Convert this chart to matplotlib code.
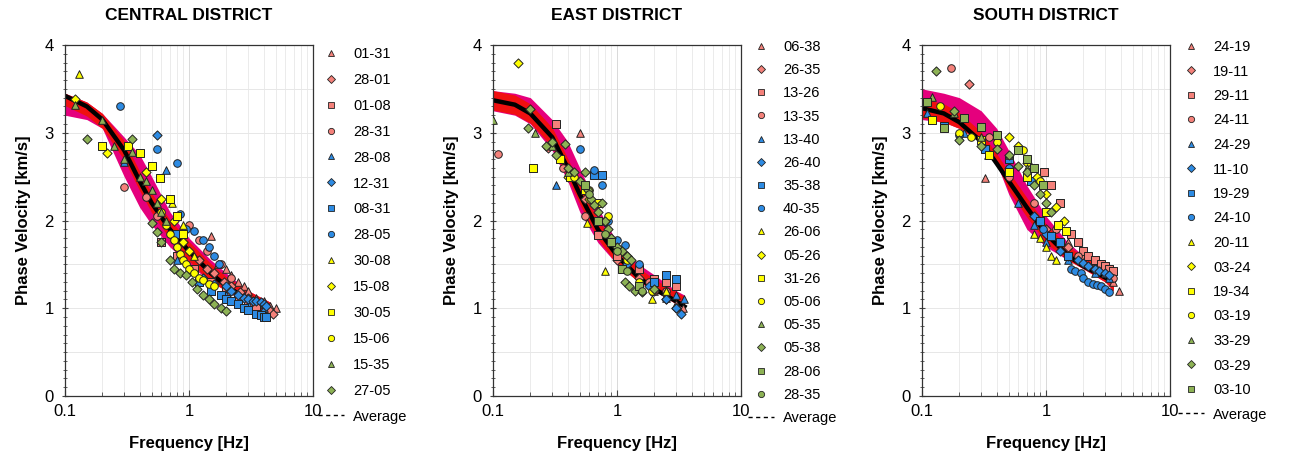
import matplotlib
matplotlib.use("Agg")
import matplotlib.pyplot as plt
from matplotlib.lines import Line2D
from matplotlib.ticker import LogLocator, MultipleLocator, NullFormatter
import numpy as np

plt.rcParams['font.family'] = ['Liberation Sans', 'DejaVu Sans']

titles = ["CENTRAL DISTRICT", "EAST DISTRICT", "SOUTH DISTRICT"]

C_RED = '#F4817A'
C_BLUE = '#2D8BE3'
C_YEL = '#FFFF00'
C_GRN = '#8DB255'
colors = [C_RED] * 4 + [C_BLUE] * 4 + [C_YEL] * 4 + [C_GRN] * 4
markers = ['^', 'D', 's', 'o'] * 4

# ---------------- CENTRAL ----------------
central_labels = ["01-31", "28-01", "01-08", "28-31", "28-08", "12-31", "08-31", "28-05",
                  "30-08", "15-08", "30-05", "15-06", "15-35", "27-05"]
central_f = [
    [1.5, 1.7, 2.0, 2.2, 2.5, 2.8, 3.0, 3.5, 4.0, 4.5, 5.0],
    [1.2, 1.4, 1.6, 1.9, 2.2, 2.6, 3.0, 3.5, 4.0, 4.4, 4.8],
    [0.6, 0.8, 1.1, 1.5, 2.0, 2.5, 3.0, 3.5],
    [0.3, 0.45, 0.55, 1.0, 1.2, 1.4, 1.8, 2.2],
    [0.3, 0.65, 0.8, 1.5, 2.0, 3.0, 4.0],
    [0.55, 1.3, 1.6, 2.0, 2.2, 2.5, 2.8, 3.0, 3.3, 3.5, 3.8, 4.0, 4.2],
    [0.8, 1.2, 1.5, 1.8, 2.0, 2.2, 2.5, 2.8, 3.0, 3.5, 3.8, 4.0, 4.2],
    [0.28, 0.55, 0.8, 0.85, 0.95, 1.1, 1.3, 1.45, 1.6, 1.75],
    [0.13, 0.73, 0.8, 0.9, 1.1],
    [0.12, 0.22, 0.45, 0.6, 0.75, 0.9, 1.0],
    [0.2, 0.32, 0.4, 0.5, 0.58, 0.7, 0.8, 0.9],
    [0.6, 0.65, 0.7, 0.75, 0.8, 0.85, 0.9, 0.95, 1.0, 1.1, 1.2, 1.3, 1.45, 1.6],
    [0.12, 0.2, 0.25, 0.3, 0.35, 0.4, 0.45, 0.5, 0.55, 0.6, 0.65],
    [0.15, 0.35, 0.5, 0.55, 0.6, 0.7, 0.75, 0.85, 0.95, 1.05, 1.15, 1.3, 1.45, 1.6, 1.8, 2.0],
]
central_v = [
    [1.82, 1.5, 1.45, 1.38, 1.3, 1.25, 1.2, 1.12, 1.08, 1.03, 1.0],
    [1.55, 1.45, 1.4, 1.3, 1.25, 1.18, 1.12, 1.07, 1.02, 0.98, 0.93],
    [1.75, 1.6, 1.45, 1.3, 1.2, 1.12, 1.05, 1.0],
    [2.38, 2.27, 2.05, 1.95, 1.78, 1.65, 1.5, 1.35],
    [2.67, 2.58, 1.55, 1.2, 1.15, 1.05, 1.0],
    [2.98, 1.35, 1.28, 1.25, 1.2, 1.15, 1.12, 1.1, 1.08, 1.08, 1.07, 1.05, 1.03],
    [1.85, 1.3, 1.2, 1.15, 1.1, 1.08, 1.05, 1.0, 0.98, 0.93, 0.92, 0.9, 0.9],
    [3.3, 2.82, 2.65, 2.07, 1.9, 1.88, 1.78, 1.7, 1.6, 1.5],
    [3.67, 2.2, 2.05, 1.95, 1.6],
    [3.38, 2.77, 2.55, 2.25, 2.0, 1.75, 1.65],
    [2.85, 2.85, 2.77, 2.62, 2.48, 2.25, 2.05, 1.85],
    [2.1, 1.95, 1.85, 1.78, 1.7, 1.62, 1.55, 1.5, 1.45, 1.4, 1.35, 1.32, 1.28, 1.25],
    [3.32, 3.15, 2.85, 2.7, 2.78, 2.5, 2.45, 2.35, 2.2, 2.1, 2.0],
    [2.93, 2.93, 1.97, 1.87, 1.75, 1.55, 1.45, 1.4, 1.38, 1.3, 1.22, 1.15, 1.1, 1.05, 1.0, 0.97],
]
central_avg_f = [0.1, 0.15, 0.2, 0.3, 0.4, 0.5, 0.7, 1.0, 1.5, 2.0, 3.0, 4.5]
central_avg_v = [3.42, 3.3, 3.15, 2.8, 2.45, 2.2, 1.9, 1.65, 1.4, 1.25, 1.1, 1.0]
central_lo = [3.2, 3.15, 3.05, 2.5, 2.15, 1.95, 1.7, 1.5, 1.3, 1.2, 1.05, 0.93]
central_hi = [3.45, 3.35, 3.22, 2.95, 2.75, 2.5, 2.1, 1.8, 1.55, 1.4, 1.2, 1.07]

# ---------------- EAST ----------------
east_labels = ["06-38", "26-35", "13-26", "13-35", "13-40", "26-40", "35-38", "40-35",
               "26-06", "05-26", "31-26", "05-06", "05-35", "05-38", "28-06", "28-35"]
east_f = [
    [0.5, 1.5, 2.0, 2.5, 3.0, 3.4],
    [0.28, 0.55, 1.0, 1.5, 2.0, 2.5, 3.0],
    [0.32, 0.7, 1.0, 1.5, 2.0, 2.5, 3.0],
    [0.11, 0.37, 0.55, 1.2, 1.8, 2.5],
    [0.32, 1.0, 2.0, 2.5, 3.0, 3.5],
    [0.8, 1.2, 1.8, 2.5, 3.0, 3.3],
    [0.65, 0.75, 1.5, 2.0, 2.5, 3.0],
    [0.5, 0.65, 0.75, 0.85, 1.0, 1.15, 1.5],
    [0.57, 0.8, 1.9, 2.5],
    [0.16, 0.4, 0.6, 0.8, 1.2],
    [0.21, 0.35, 0.42, 0.55, 0.7],
    [0.45, 0.6, 0.85, 1.2, 1.5, 1.9],
    [0.1, 0.22, 0.3, 0.4],
    [0.19, 0.2, 0.27, 0.3, 0.32, 0.38, 0.4, 0.45, 0.5, 0.55, 0.58, 0.62, 0.65, 0.7, 0.75,
     0.8, 0.85, 0.9, 1.0, 1.1, 1.2, 1.3, 1.15, 1.25, 1.4, 1.6, 2.0],
    [0.55, 0.7, 0.9, 1.1, 1.5],
    [0.6, 0.8, 1.0, 1.2, 1.6],
]
east_v = [
    [3.0, 1.3, 1.2, 1.12, 1.05, 1.0],
    [2.83, 2.25, 1.55, 1.35, 1.2, 1.1, 1.0],
    [3.1, 1.83, 1.6, 1.45, 1.33, 1.3, 1.25],
    [2.76, 2.6, 2.05, 1.5, 1.3, 1.2],
    [2.4, 1.7, 1.25, 1.2, 1.15, 1.1],
    [1.98, 1.5, 1.25, 1.1, 1.0, 0.93],
    [2.52, 2.52, 1.25, 1.3, 1.38, 1.33],
    [2.82, 2.58, 2.4, 2.0, 1.78, 1.72, 1.5],
    [1.97, 1.43, 1.1, 1.2],
    [3.8, 2.5, 2.25, 2.0, 1.6],
    [2.6, 2.7, 2.5, 2.35, 2.2],
    [2.5, 2.35, 2.05, 1.55, 1.3, 1.2],
    [3.15, 3.0, 2.85, 2.55],
    [3.05, 3.27, 2.85, 2.9, 2.75, 2.87, 2.6, 2.55, 2.45, 2.55, 2.35, 2.25, 2.18, 2.1, 2.2,
     2.0, 1.9, 1.8, 1.7, 1.65, 1.6, 1.55, 1.3, 1.25, 1.2, 1.18, 1.22],
    [2.4, 2.0, 1.75, 1.45, 1.25],
    [2.3, 1.85, 1.65, 1.42, 1.2],
]
east_avg_f = [0.1, 0.15, 0.2, 0.3, 0.4, 0.5, 0.7, 1.0, 1.5, 2.0, 3.0, 3.5]
east_avg_v = [3.37, 3.32, 3.22, 2.95, 2.6, 2.3, 1.9, 1.6, 1.35, 1.22, 1.08, 1.02]
east_lo = [3.25, 3.2, 3.1, 2.8, 2.45, 2.1, 1.75, 1.5, 1.3, 1.2, 1.05, 1.0]
east_hi = [3.48, 3.45, 3.4, 3.15, 2.9, 2.6, 2.15, 1.75, 1.5, 1.38, 1.2, 1.15]

# ---------------- SOUTH ----------------
south_labels = ["24-19", "19-11", "29-11", "24-11", "24-29", "11-10", "19-29", "24-10",
                "20-11", "03-24", "19-34", "03-19", "33-29", "03-29", "03-10"]
south_f = [
    [0.32, 1.5, 2.0, 2.5, 3.0, 3.5, 3.9],
    [0.24, 0.5, 1.0, 1.5, 2.5, 3.3],
    [0.97, 1.1, 1.3, 1.6, 1.8, 2.0, 2.2, 2.5, 2.8, 3.0, 3.2, 3.5],
    [0.17, 0.35, 0.5, 0.8, 1.2, 1.8, 2.5, 3.5],
    [0.11, 0.22, 0.34, 0.5, 0.6, 0.8, 1.0, 1.5, 2.5, 3.2],
    [0.8, 1.0, 1.3, 1.5, 1.8, 2.0, 2.2, 2.5, 2.7, 3.0, 3.2],
    [0.15, 0.32, 0.5, 0.75, 0.9, 1.1, 1.3, 1.5],
    [0.2, 0.5, 0.95, 1.6, 1.7, 1.9, 2.0, 2.2, 2.4, 2.6, 2.8, 3.0, 3.2],
    [0.8, 0.9, 1.0, 1.1, 1.2],
    [0.5, 0.6, 0.7, 0.85, 1.0, 1.2, 1.4],
    [0.12, 0.3, 0.35, 0.5, 0.7, 1.0, 1.25, 1.45],
    [0.14, 0.2, 0.25, 0.4, 0.65, 0.9],
    [0.12, 0.18, 0.3, 0.5, 0.7],
    [0.13, 0.18, 0.2, 0.3, 0.4, 0.5, 0.6, 0.7, 0.8, 0.9, 1.0, 1.1],
    [0.11, 0.15, 0.22, 0.3, 0.4, 0.6, 0.7, 0.8, 0.95],
]
south_v = [
    [2.48, 1.75, 1.6, 1.5, 1.4, 1.3, 1.2],
    [3.55, 2.6, 1.9, 1.7, 1.45, 1.38],
    [2.55, 2.4, 2.2, 1.85, 1.75, 1.65, 1.6, 1.55, 1.5, 1.48, 1.45, 1.42],
    [3.74, 2.95, 2.5, 2.2, 1.9, 1.6, 1.45, 1.35],
    [3.22, 3.0, 2.75, 2.55, 2.2, 1.95, 1.75, 1.55, 1.4, 1.35],
    [2.05, 1.85, 1.65, 1.6, 1.55, 1.52, 1.48, 1.45, 1.42, 1.4, 1.38],
    [3.08, 2.82, 2.7, 2.45, 2.0, 1.82, 1.75, 1.6],
    [2.98, 2.6, 1.9, 1.45, 1.43, 1.4, 1.35, 1.3, 1.28, 1.27, 1.25, 1.22, 1.18],
    [1.85, 1.8, 1.7, 1.6, 1.55],
    [2.95, 2.85, 2.65, 2.5, 2.3, 2.15, 2.0],
    [3.15, 2.92, 2.75, 2.55, 2.5, 2.1, 1.95, 1.88],
    [3.3, 3.0, 2.95, 2.9, 2.8, 2.45],
    [3.41, 3.22, 2.95, 2.75, 2.6],
    [3.7, 3.25, 2.92, 2.85, 2.82, 2.75, 2.62, 2.55, 2.4, 2.3, 2.2, 2.1],
    [3.35, 3.05, 3.17, 3.07, 2.97, 2.8, 2.7, 2.6, 2.4],
]
south_avg_f = [0.1, 0.15, 0.2, 0.3, 0.4, 0.5, 0.7, 1.0, 1.5, 2.0, 3.0, 3.5]
south_avg_v = [3.28, 3.22, 3.12, 2.9, 2.65, 2.45, 2.15, 1.85, 1.6, 1.48, 1.35, 1.3]
south_lo = [3.15, 3.12, 3.05, 2.9, 2.65, 2.3, 1.9, 1.7, 1.55, 1.45, 1.3, 1.2]
south_hi = [3.5, 3.45, 3.4, 3.25, 3.05, 2.8, 2.4, 2.05, 1.75, 1.6, 1.45, 1.45]

panels = [
    (central_labels, central_f, central_v, central_avg_f, central_avg_v, central_lo, central_hi),
    (east_labels, east_f, east_v, east_avg_f, east_avg_v, east_lo, east_hi),
    (south_labels, south_f, south_v, south_avg_f, south_avg_v, south_lo, south_hi),
]

W, H = 1293, 459
fig = plt.figure(figsize=(W / 100, H / 100), dpi=100)

ax_left_px = [65, 493, 922]
ax_w_px = 248
ax_top_px, ax_bot_px = 45, 396
legend_x_px = [318, 748, 1178]
legend_top_px = [47, 40, 40]
legend_spacing = [0.816, 0.63, 0.72]

for i, (labels, fs, vs, af, av, lo, hi) in enumerate(panels):
    ax = fig.add_axes([ax_left_px[i] / W, (H - ax_bot_px) / H, ax_w_px / W,
                       (ax_bot_px - ax_top_px) / H])
    ax.set_xscale('log')
    ax.set_xlim(0.1, 10)
    ax.set_ylim(0, 4)

    ax.fill_between(af, lo, hi, color='#E5007D', lw=0, zorder=1)
    inner_lo = [max(a - 0.11, l) for a, l in zip(av, lo)]
    inner_hi = [min(a + 0.11, h) for a, h in zip(av, hi)]
    ax.fill_between(af, inner_lo, inner_hi, color='#F01010', lw=0, zorder=1.5)
    ax.plot(af, av, color='black', lw=3.2, zorder=2)

    handles = []
    for j, lab in enumerate(labels):
        ax.scatter(fs[j], vs[j], marker=markers[j], s=30 if markers[j] != 'D' else 22,
                   facecolor=colors[j], edgecolor='#222222', linewidths=0.7, zorder=3)
        handles.append(Line2D([], [], linestyle='none', marker=markers[j],
                              markersize=4.5 if markers[j] != 'D' else 3.8,
                              markerfacecolor=colors[j], markeredgecolor='#222222',
                              markeredgewidth=0.6, label=lab))
    handles.append(Line2D([], [], color='black', lw=1.0, linestyle=(0, (3, 2.5)),
                          label='Average'))

    ax.xaxis.set_minor_locator(LogLocator(base=10, subs=np.arange(2, 10), numticks=10))
    ax.xaxis.set_minor_formatter(NullFormatter())
    ax.set_xticks([0.1, 1, 10])
    ax.set_xticklabels(['0.1', '1', '10'])
    ax.set_yticks([0, 1, 2, 3, 4])
    ax.set_yticklabels(['0', '1', '2', '3', '4'])
    ax.yaxis.set_minor_locator(MultipleLocator(0.1))
    ax.tick_params(axis='both', which='major', labelsize=12, length=4, width=0.8,
                   color='#444444', pad=6)
    ax.tick_params(axis='x', which='both', direction='in')
    ax.tick_params(axis='y', which='both', direction='inout')
    ax.tick_params(axis='both', which='minor', length=3, width=0.6, color='#444444')

    ax.grid(True, which='major', axis='x', color='#D9D9D9', lw=0.7, zorder=0)
    ax.grid(True, which='minor', axis='x', color='#E8E8E8', lw=0.6, zorder=0)
    for yv in np.arange(0.5, 4.0, 0.5):
        ax.axhline(yv, color='#E3E3E3', lw=0.6, zorder=0)
    ax.set_axisbelow(True)
    for sp in ax.spines.values():
        sp.set_color('#333333')
        sp.set_linewidth(0.9)

    ax.set_xlabel('Frequency [Hz]', fontsize=12, fontweight='bold', labelpad=12)
    ax.set_ylabel('Phase Velocity [km/s]', fontsize=12, fontweight='bold', labelpad=10)
    ax.set_title(titles[i], fontsize=12.5, fontweight='bold', pad=18)

    fig.legend(handles=handles, loc='upper left',
               bbox_to_anchor=(legend_x_px[i] / W, 1 - legend_top_px[i] / H),
               frameon=False, fontsize=10.5, handlelength=1.8, handletextpad=0.6,
               labelspacing=legend_spacing[i],
               borderpad=0, borderaxespad=0)

fig.savefig('out.png', dpi=100)
